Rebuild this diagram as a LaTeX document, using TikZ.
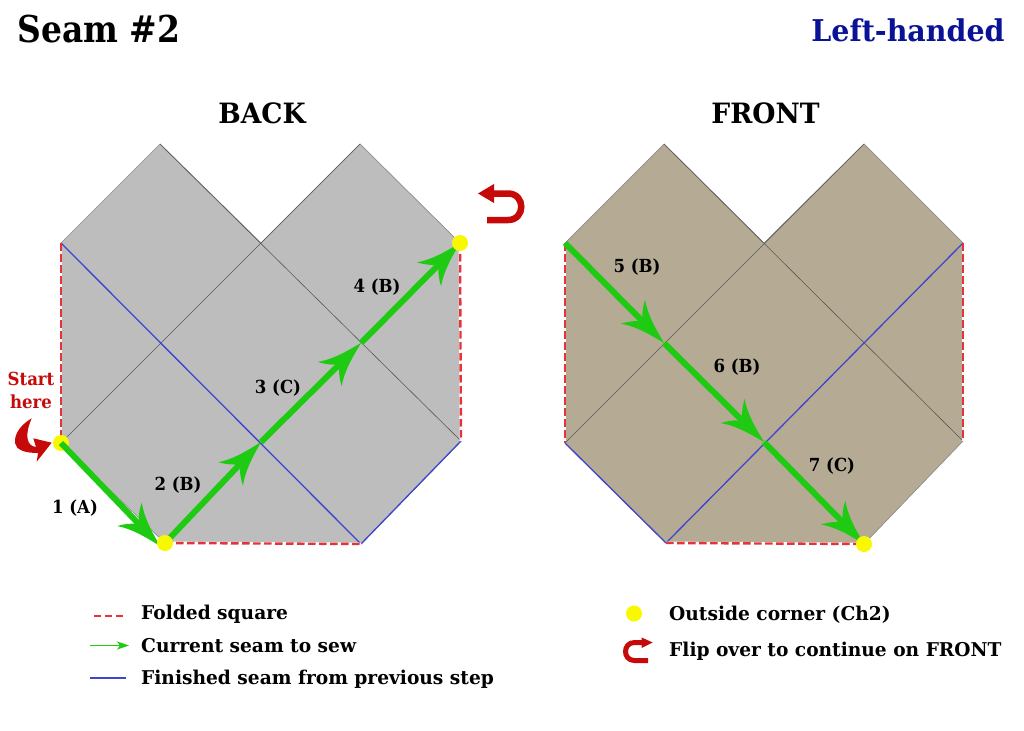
\documentclass[tikz,border=0pt]{standalone}
\usepackage{fontspec}
\usetikzlibrary{arrows.meta}
\setmainfont{DejaVu Serif}
\newfontfamily\titlefont{DejaVu Serif}[FakeStretch=0.89]
\newfontfamily\headfont{DejaVu Serif}[FakeStretch=0.95]
\newfontfamily\bodyfont{DejaVu Serif}[FakeStretch=0.98]
\newfontfamily\labelfont{DejaVu Serif}[FakeStretch=0.92]
\definecolor{backgray}{HTML}{BDBDBD}
\definecolor{fronttan}{HTML}{B5AB94}
\definecolor{seamgreen}{HTML}{1FCB12}
\definecolor{seamblue}{HTML}{3F45CC}
\definecolor{foldred}{HTML}{E8323A}
\definecolor{flipred}{HTML}{C60A0A}
\definecolor{lefthand}{HTML}{0A1296}
\definecolor{cornery}{HTML}{F8F800}
\pgfdeclarearrow{
  name=SeamHead,
  setup code={%
    \pgfarrowssettipend{0pt}%
    \pgfarrowssetlineend{-29pt}%
    \pgfarrowssetvisualtipend{0pt}%
    \pgfarrowssetbackend{-44pt}%
    \pgfarrowssetvisualbackend{-31pt}%
    \pgfarrowshullpoint{0pt}{0pt}%
    \pgfarrowshullpoint{-44pt}{17pt}%
    \pgfarrowshullpoint{-44pt}{-17pt}%
  },
  drawing code={%
    \pgfsetdash{}{0pt}%
    \pgfpathmoveto{\pgfqpoint{0pt}{0pt}}%
    \pgfpathcurveto{\pgfqpoint{-11pt}{3pt}}{\pgfqpoint{-30pt}{7pt}}{\pgfqpoint{-44pt}{17pt}}%
    \pgfpathcurveto{\pgfqpoint{-40pt}{9pt}}{\pgfqpoint{-35pt}{4pt}}{\pgfqpoint{-31pt}{0pt}}%
    \pgfpathcurveto{\pgfqpoint{-35pt}{-4pt}}{\pgfqpoint{-40pt}{-9pt}}{\pgfqpoint{-44pt}{-17pt}}%
    \pgfpathcurveto{\pgfqpoint{-30pt}{-7pt}}{\pgfqpoint{-11pt}{-3pt}}{\pgfqpoint{0pt}{0pt}}%
    \pgfpathclose
    \pgfusepathqfill
  }
}
\tikzset{
  patch/.style={draw=black!45,line width=0.7pt,line join=miter},
  crease/.style={draw=black!65,line width=0.6pt},
  finished/.style={draw=seamblue,line width=1.3pt},
  foldback/.style={draw=white,line width=2.8pt},
  folded/.style={draw=foldred,line width=2.4pt,dash pattern=on 7.5pt off 3.5pt},
  sewn/.style={draw=seamgreen,line width=6pt,-{SeamHead},fill=seamgreen},
  corner/.style={circle,fill=cornery,minimum size=16pt,inner sep=0pt},
  title/.style={anchor=base,inner sep=0pt,font=\titlefont\bfseries\fontsize{37}{37}\selectfont},
  side/.style={anchor=base,inner sep=0pt,font=\headfont\bfseries\fontsize{28}{28}\selectfont},
  seamlabel/.style={anchor=base,inner sep=0pt,font=\labelfont\bfseries\fontsize{18}{18}\selectfont},
  legendtext/.style={anchor=base west,inner sep=0pt,font=\bodyfont\bfseries\fontsize{19}{19}\selectfont},
  flipmark/.style={draw=flipred,line width=6.5pt,line cap=butt},
}
\begin{document}
\begin{tikzpicture}[x=1pt,y=-1pt]
\useasboundingbox (0,0) rectangle (1024,730);
% BACK points
\coordinate (a1) at (61,243);
\coordinate (a2) at (160,144);
\coordinate (a3) at (261,243);
\coordinate (a4) at (360,144);
\coordinate (a5) at (460,243);
\coordinate (a6) at (461,441);
\coordinate (a7) at (361,544);
\coordinate (a8) at (165,543);
\coordinate (a9) at (61,443);
\coordinate (a10) at (361,343);
\coordinate (a11) at (261,442);
\coordinate (a12) at (161,343);
% FRONT points
\coordinate (b1) at (565,243);
\coordinate (b2) at (664,144);
\coordinate (b3) at (764,243);
\coordinate (b4) at (864,144);
\coordinate (b5) at (963,243);
\coordinate (b6) at (963,441);
\coordinate (b7) at (864,544);
\coordinate (b8) at (666,543);
\coordinate (b9) at (565,443);
\coordinate (b10) at (664,343);
\coordinate (b11) at (764,442);
\coordinate (b12) at (864,343);
% patches
\path[patch,fill=backgray] (a1)--(a2)--(a3)--(a4)--(a5)--(a6)--(a7)--(a8)--(a9)--cycle;
\path[patch,fill=fronttan] (b1)--(b2)--(b3)--(b4)--(b5)--(b6)--(b7)--(b8)--(b9)--cycle;
% creases
\draw[crease] (a9)--(a4);
\draw[crease] (a2)--(a6);
\draw[crease] (b9)--(b4);
\draw[crease] (b2)--(b6);
% finished
\draw[finished] (a1)--(a7);
\draw[finished] (a7)--(a6);
\draw[finished] (b9)--(b8);
\draw[finished] (b8)--(b5);
% folded
\foreach \p/\q in {a1/a9,a5/a6,a8/a7,b1/b9,b5/b6,b8/b7}{
  \draw[foldback] (\p)--(\q);
  \draw[folded] (\p)--(\q);
}
% first corner lies under its seam
\node[corner] (c1) at (a9) {};
% seams
\draw[sewn] (a9) -- ([xshift=-5pt,yshift=-3pt]a8);
\draw[sewn] (a8) -- (a11);
\draw[sewn] (a11) -- (a10);
\draw[sewn] (a10) -- (a5);
\draw[sewn] (b1) -- (b10);
\draw[sewn] (b10) -- (b11);
\draw[sewn] (b11) -- (b7);
\node[corner] (c2) at (a8) {};
\node[corner] (c3) at (a5) {};
\node[corner] (c4) at (b7) {};
% titles
\node[title] (t1) at (99,43) {Seam \#2};
\node[title,text=lefthand,font=\headfont\bfseries\fontsize{30}{30}\selectfont] (t2) at (908,42) {Left-handed};
\node[side] (t3) at (262,124) {BACK};
\node[side] (t4) at (765.5,124) {FRONT};
% seam labels
\node[seamlabel] (l1) at (75,513) {1 (A)};
\node[seamlabel] (l2) at (178,490) {2 (B)};
\node[seamlabel] (l3) at (278,393) {3 (C)};
\node[seamlabel] (l4) at (377,292) {4 (B)};
\node[seamlabel] (l5) at (637,272) {5 (B)};
\node[seamlabel] (l6) at (737,372) {6 (B)};
\node[seamlabel] (l7) at (832,471) {7 (C)};
\node[seamlabel,text=flipred] (s1) at (31,385) {Start};
\node[seamlabel,text=flipred] (s2) at (31,408) {here};
% start arrow
\fill[flipred] (31.7,418.3) .. controls (22,424) and (14,433) .. (15,443)
  .. controls (16,450) and (25,453) .. (38,453) -- (36.7,461.7) -- (51.7,442.7) -- (33.3,438.3) -- (36,447)
  .. controls (27,446) and (24,436) .. cycle;
% flip arrow
\draw[flipmark] (493,193.5) -- (508,193.5) .. controls (525.7,193.5) and (525.7,220) .. (508,220) -- (487,220);
\fill[flipred] (478,193.5) -- (494,184) -- (494,203) -- cycle;
% legend
\coordinate (k1a) at (94,616); \coordinate (k1b) at (125,616);
\coordinate (k2a) at (90,645.5); \coordinate (k2b) at (129,645.5);
\coordinate (k3a) at (90,678); \coordinate (k3b) at (126,678);
\draw[draw=foldred,line width=1.4pt,dash pattern=on 7pt off 4pt] (k1a)--(k1b);
\draw[draw=seamgreen,line width=1.5pt,-{Stealth[length=12pt,width=8pt,inset=3pt]}] (k2a)--(k2b);
\draw[draw=seamblue,line width=1.2pt] (k3a)--(k3b);
\node[legendtext] (n1) at (141,619) {Folded square};
\node[legendtext] (n2) at (141,652) {Current seam to sew};
\node[legendtext] (n3) at (141,684) {Finished seam from previous step};
\node[corner] (k4) at (634,613.5) {};
\draw[flipred,line width=5pt] (642,642.5) -- (634.5,642.5) .. controls (622.5,642.5) and (622.5,660.5) .. (634.5,660.5) -- (648,660.5);
\fill[flipred] (652.7,642.5) -- (641.7,637.5) -- (641.7,648) -- cycle;
\node[legendtext] (n4) at (669,620.5) {Outside corner (Ch2)};
\node[legendtext] (n5) at (669,656) {Flip over to continue on FRONT};
\end{tikzpicture}
\end{document}
